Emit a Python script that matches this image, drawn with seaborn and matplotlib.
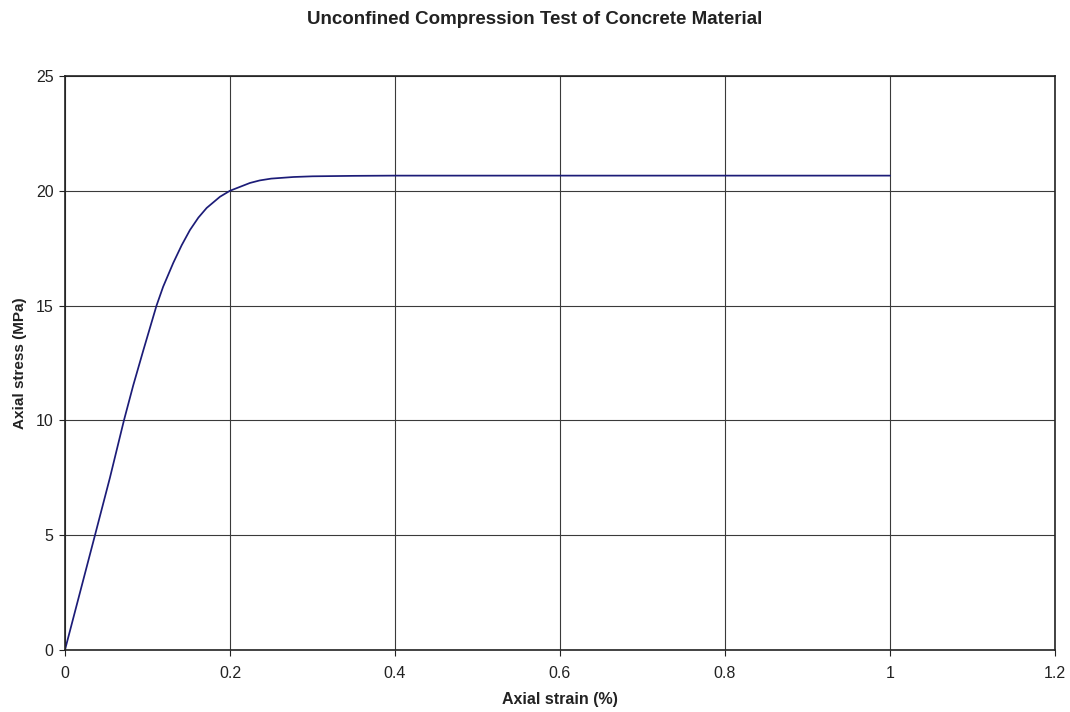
import matplotlib
matplotlib.use("Agg")
import matplotlib.pyplot as plt
import seaborn as sns
import pandas as pd

# Stress-strain readings for the unconfined compression test
strain_pct = [0.0, 0.0182, 0.0364, 0.0545, 0.0715, 0.0828, 0.0949, 0.111, 0.119,
              0.1313, 0.1415, 0.1515, 0.1617, 0.1717, 0.1879, 0.200, 0.2242,
              0.236, 0.250, 0.277, 0.300, 0.350, 0.400, 0.500, 0.600, 0.700,
              0.800, 0.900, 1.000]
stress_mpa = [0.0, 2.5, 5.0, 7.5, 10.0, 11.53, 13.04, 15.0, 15.82,
              16.86, 17.63, 18.29, 18.83, 19.25, 19.74, 20.0, 20.34,
              20.45, 20.53, 20.6, 20.63, 20.65, 20.66, 20.66, 20.66, 20.66,
              20.66, 20.66, 20.66]

x_ticks = [0, 0.2, 0.4, 0.6, 0.8, 1.0, 1.2]
x_tick_labels = ["0", "0.2", "0.4", "0.6", "0.8", "1", "1.2"]
y_ticks = [0, 5, 10, 15, 20, 25]

df = pd.DataFrame({"strain": strain_pct, "stress": stress_mpa})

sns.set_style("white")
plt.rcParams["font.family"] = ["Liberation Sans", "DejaVu Sans"]

fig = plt.figure(figsize=(10.7, 7.12), dpi=100)
ax = fig.add_axes([0.0607, 0.0871, 0.9253, 0.8062])

sns.lineplot(data=df, x="strain", y="stress", sort=False, estimator=None,
             color="#1c1c78", linewidth=1.25, ax=ax)

ax.set_xlim(0, 1.2)
ax.set_ylim(0, 25)
ax.set_xticks(x_ticks)
ax.set_xticklabels(x_tick_labels)
ax.set_yticks(y_ticks)
ax.grid(True, color="#3a3a3a", linewidth=0.8)
ax.set_axisbelow(True)
for side in ax.spines.values():
    side.set_color("#222222")
    side.set_linewidth(1.2)
    side.set_visible(True)

ax.tick_params(axis="both", direction="out", length=4.3, width=0.8,
               color="#222222", labelsize=11.5, labelcolor="#222222",
               bottom=True, left=True)
ax.tick_params(axis="x", pad=7.5)
ax.tick_params(axis="y", pad=4)

ax.set_xlabel("Axial strain (%)", fontsize=11.5, fontweight="bold",
              color="#222222", labelpad=8)
ax.set_ylabel("Axial stress (MPa)", fontsize=11, fontweight="bold",
              color="#222222", labelpad=6)
fig.text(0.5, 1 - 19 / 712, "Unconfined Compression Test of Concrete Material",
         ha="center", va="center", fontsize=13.5, fontweight="bold",
         color="#222222")

fig.savefig("out.png", dpi=100, facecolor="white")
